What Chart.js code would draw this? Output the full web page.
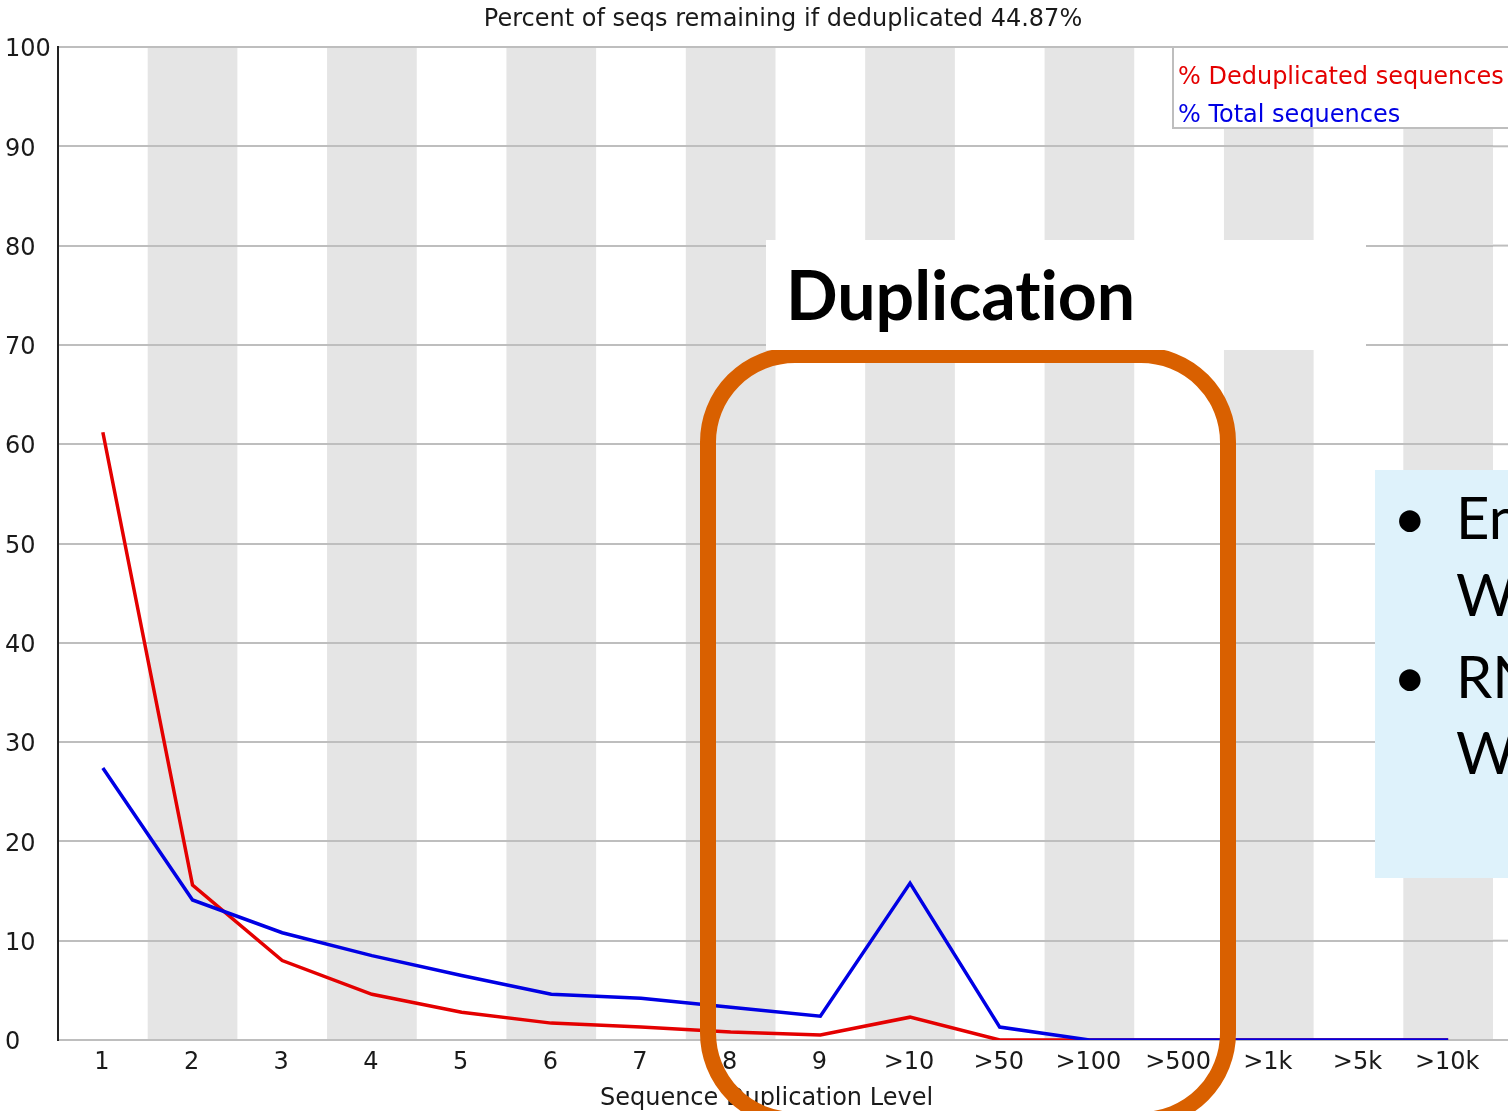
<!DOCTYPE html>
<html>
<head>
<meta charset="utf-8">
<title>Sequence Duplication Levels</title>
<script src="https://cdn.jsdelivr.net/npm/chart.js@4.4.1/dist/chart.umd.min.js"></script>
<style>
  html, body { margin: 0; padding: 0; background: #fff; overflow: hidden; }
  #stage { position: relative; width: 1508px; height: 1111px; overflow: hidden; }
  #plot { position: absolute; left: 0; top: 0; }
  .frame {
    position: absolute; left: 700px; top: 347px; width: 536px; height: 781px;
    box-sizing: border-box; border: 16px solid rgb(217, 96, 0); border-radius: 95px;
  }
  .heading {
    position: absolute; left: 766px; top: 240px; width: 600px; height: 110px;
    background: #fff;
  }
  .heading span {
    position: absolute; left: 20px; top: 20px;
    font-family: Lato, "Open Sans", sans-serif; font-weight: 700; font-size: 68px;
    line-height: 68px; color: #000; white-space: nowrap;
    font-variant-ligatures: none; font-feature-settings: "liga" 0, "clig" 0;
  }
  .note {
    position: absolute; left: 1375px; top: 470px; width: 200px; height: 408px;
    background: #def2fb;
  }
  .note div {
    position: absolute; font-family: Lato, "Open Sans", sans-serif; font-size: 58px;
    line-height: 58px; color: #000; white-space: nowrap;
  }
</style>
</head>
<body>
<div id="stage">
  <canvas id="plot" width="1508" height="1111"></canvas>
  <div class="frame"></div>
  <div class="heading"><span>Duplication</span></div>
  <div class="note">
    <div style="left:18px; top:18px;">•</div>
    <div style="left:81px; top:18px;">En</div>
    <div style="left:81px; top:95px;">W</div>
    <div style="left:18px; top:177px;">•</div>
    <div style="left:81px; top:177px;">RN</div>
    <div style="left:81px; top:253px;">W</div>
  </div>
</div>
<script>
// Duplication level bins on the x axis
const levels = ['1', '2', '3', '4', '5', '6', '7', '8', '9', '>10', '>50', '>100', '>500', '>1k', '>5k', '>10k'];
// Percent of deduplicated sequences in each bin
const dedupPct = [61.2, 15.6, 8.0, 4.6, 2.8, 1.7, 1.3, 0.8, 0.5, 2.3, 0.0, 0.0, 0.0, 0.0, 0.0, 0.0];
// Percent of total sequences in each bin
const totalPct = [27.4, 14.1, 10.8, 8.5, 6.5, 4.6, 4.2, 3.3, 2.4, 15.8, 1.3, 0.0, 0.0, 0.0, 0.0, 0.0];
// Y axis ticks
const yTicks = [0, 10, 20, 30, 40, 50, 60, 70, 80, 90, 100];
const remainingPct = '44.87';
const plotTitle = 'Percent of seqs remaining if deduplicated ' + remainingPct + '%';
const xTitle = 'Sequence Duplication Level';

const RED = 'rgb(228, 0, 0)';
const BLUE = 'rgb(0, 0, 228)';
const GRID = 'rgb(190, 190, 190)';
const TEXT = '#1a1a1a';
const FONT = '24px "DejaVu Sans", sans-serif';

Chart.defaults.font.family = '"DejaVu Sans", sans-serif';
Chart.defaults.font.size = 24;
Chart.defaults.color = TEXT;

const bandPlugin = {
  id: 'levelBands',
  beforeDraw(chart) {
    // alternating grey bands behind every second bin
    const { ctx, chartArea, scales: { x } } = chart;
    const step = x.getPixelForValue(1) - x.getPixelForValue(0);
    ctx.save();
    ctx.fillStyle = 'rgb(229, 229, 229)';
    levels.forEach((_, i) => {
      if (i % 2 === 1) {
        const c = x.getPixelForValue(i);
        ctx.fillRect(c - step / 2, chartArea.top, step, chartArea.bottom - chartArea.top);
      }
    });
    // plot title and x axis title
    ctx.font = FONT;
    ctx.fillStyle = TEXT;
    ctx.textAlign = 'center';
    ctx.textBaseline = 'middle';
    ctx.fillText(plotTitle, (chartArea.left + chart.width) / 2, 20);
    ctx.fillText(xTitle, (chartArea.left + chartArea.right) / 2 - 9, chart.height - 12);
    ctx.restore();
  },
  beforeDatasetsDraw(chart) {
    // carry the horizontal grid lines on to the right edge
    const { ctx, chartArea, scales: { y }, width } = chart;
    ctx.save();
    ctx.strokeStyle = GRID;
    ctx.lineWidth = 2;
    yTicks.forEach(v => {
      const py = y.getPixelForValue(v);
      ctx.beginPath();
      ctx.moveTo(chartArea.right, py);
      ctx.lineTo(width, py);
      ctx.stroke();
    });
    ctx.restore();
  },
  afterDatasetsDraw(chart) {
    // boxed legend with coloured labels in the top-right corner
    const { ctx, chartArea } = chart;
    const left = chartArea.right - 320;
    const top = chartArea.top;
    ctx.save();
    ctx.fillStyle = '#fff';
    ctx.fillRect(left, top, 400, 81);
    ctx.strokeStyle = 'rgb(190, 190, 190)';
    ctx.lineWidth = 2;
    ctx.strokeRect(left, top, 400, 81);
    ctx.font = FONT;
    ctx.textBaseline = 'middle';
    ctx.textAlign = 'left';
    chart.data.datasets.forEach((ds, i) => {
      ctx.fillStyle = ds.borderColor;
      ctx.fillText(ds.label, left + 5, top + 31 + i * 38);
    });
    ctx.restore();
  }
};

new Chart(document.getElementById('plot'), {
  type: 'line',
  data: {
    labels: levels,
    datasets: [
      { label: '% Deduplicated sequences', data: dedupPct, borderColor: RED, backgroundColor: RED,
        borderWidth: 3.5, pointRadius: 0, tension: 0, fill: false, order: 2 },
      { label: '% Total sequences', data: totalPct, borderColor: BLUE, backgroundColor: BLUE,
        borderWidth: 3.5, pointRadius: 0, tension: 0, fill: false, order: 1 }
    ]
  },
  options: {
    responsive: false,
    animation: false,
    events: [],
    layout: { padding: { left: 5, right: 15, top: 47, bottom: 0 } },
    plugins: {
      legend: { display: false },
      tooltip: { enabled: false },
      title: { display: false }
    },
    scales: {
      x: {
        type: 'category',
        offset: true,
        grid: { display: false, drawTicks: false },
        border: { display: false },
        ticks: { padding: 8, autoSkip: false, maxRotation: 0, labelOffset: -1 },
        afterFit(scale) { scale.height = 71; }
      },
      y: {
        min: 0, max: 100,
        afterBuildTicks(scale) { scale.ticks = yTicks.map(v => ({ value: v })); },
        grid: { color: GRID, lineWidth: 2, drawTicks: false },
        border: { display: true, color: '#222', width: 2 },
        ticks: { crossAlign: 'far', padding: 0, labelOffset: 3 },
        afterFit(scale) { scale.width = 53; }
      }
    }
  },
  plugins: [bandPlugin]
});
</script>
</body>
</html>
